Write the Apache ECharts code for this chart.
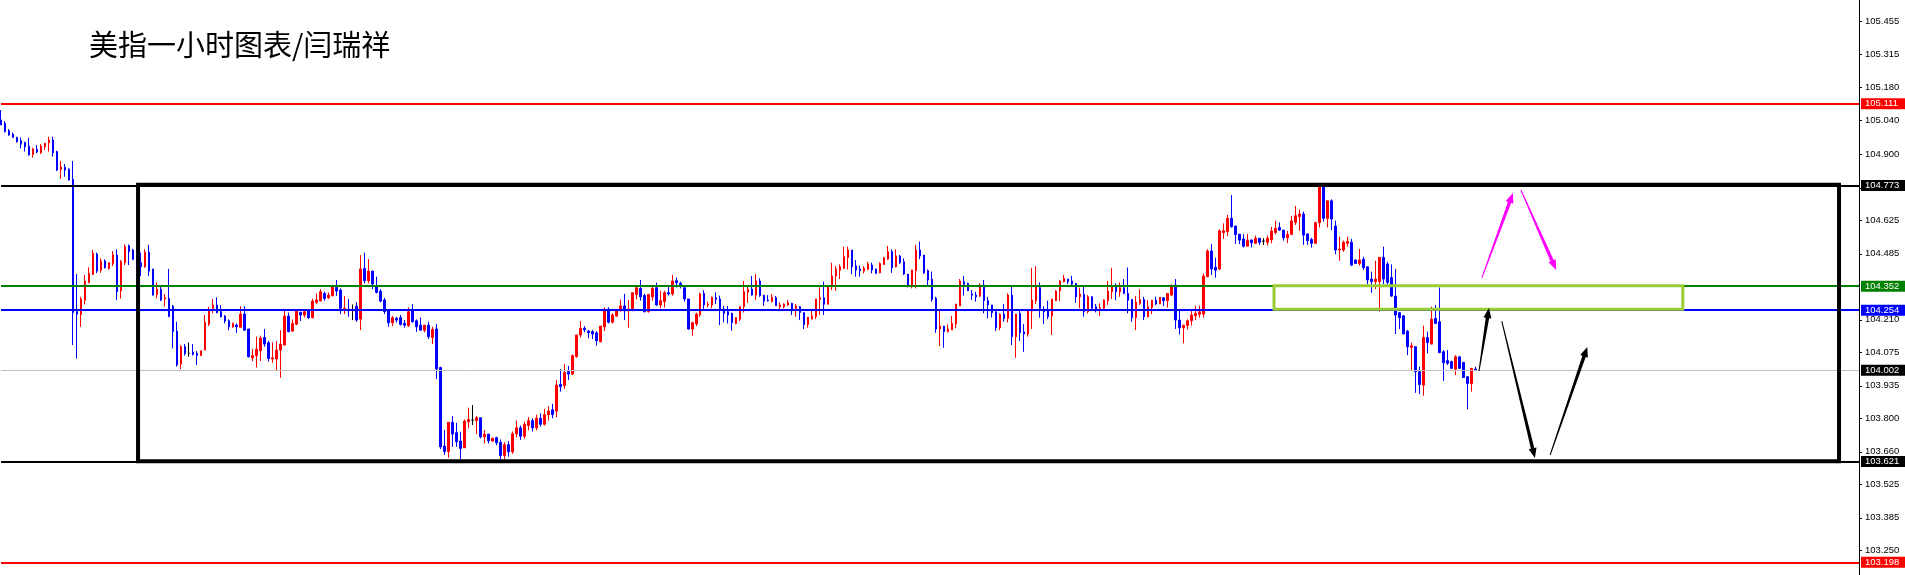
<!DOCTYPE html>
<html><head><meta charset="utf-8">
<script src="https://cdn.jsdelivr.net/npm/echarts@6/dist/echarts.min.js"></script>
<style>html,body{margin:0;padding:0;background:#fff}#c{width:1905px;height:575px}</style>
</head><body><div id="c"></div>
<script>
const titleText = '美指一小时图表/闫瑞祥';
const opens = [
105.043,105.029,104.998,104.983,104.970,104.956,104.949,104.934,104.899,104.920,
104.906,104.931,104.948,104.959,104.911,104.837,104.845,104.838,104.795,104.244,
104.233,104.292,104.366,104.399,104.484,104.417,104.455,104.424,104.445,104.480,
104.331,104.448,104.519,104.501,104.466,104.448,104.431,104.492,104.422,104.316,
104.337,104.297,104.299,104.267,104.163,104.026,104.098,104.070,104.076,104.070,
104.061,104.084,104.192,104.258,104.272,104.244,104.226,104.206,104.181,104.188,
104.179,104.234,104.172,104.052,104.061,104.081,104.137,104.115,104.047,104.047,
104.084,104.105,104.226,104.163,104.192,104.242,104.230,104.247,104.219,104.283,
104.290,104.320,104.302,104.310,104.345,104.334,104.251,104.254,104.251,104.267,
104.213,104.424,104.373,104.413,104.351,104.330,104.293,104.248,104.198,104.216,
104.219,104.195,104.186,104.248,104.206,104.188,104.167,104.188,104.137,104.172,
104.011,103.684,103.661,103.783,103.740,103.705,103.677,103.785,103.792,103.790,
103.802,103.723,103.734,103.705,103.719,
103.700,103.645,103.690,103.660,103.735,103.760,103.725,103.770,103.790,103.760,103.800,103.775,103.815,103.835,103.830,
103.941,103.936,103.994,103.984,104.057,104.147,104.175,104.163,104.161,104.156,
104.119,104.181,104.254,104.200,104.226,104.248,104.268,104.248,104.248,104.316,
104.341,104.311,104.244,104.306,104.344,104.272,104.286,104.323,104.318,104.373,
104.362,104.344,104.297,104.172,104.193,104.230,104.320,104.272,104.272,104.302,
104.297,104.255,104.244,104.237,104.195,104.213,104.265,104.325,104.338,104.313,
104.372,104.313,104.293,104.286,104.302,104.265,104.265,104.272,104.279,104.258,
104.265,104.240,104.191,104.213,104.223,104.295,104.302,104.275,104.348,104.393,
104.417,104.425,104.470,104.501,104.434,104.422,104.413,104.420,104.438,104.422,
104.406,104.441,104.463,104.494,104.431,104.476,104.452,104.401,104.355,104.415,
104.501,104.480,104.415,104.379,104.300,104.172,104.184,104.161,104.168,104.193,
104.268,104.369,104.362,104.318,104.313,104.309,104.355,104.290,104.272,104.244,
104.177,104.234,104.216,104.313,104.140,104.237,104.160,104.151,104.247,104.290,
104.344,104.255,104.247,104.226,104.290,104.331,104.369,104.380,104.372,104.362,
104.306,104.316,104.244,104.306,104.265,104.258,104.258,104.290,104.327,104.348,
104.327,104.344,104.320,104.295,104.219,104.279,104.295,104.223,104.262,104.292,
104.276,104.302,104.290,104.313,104.355,104.209,104.177,104.186,104.206,104.227,
104.233,104.234,104.390,104.497,104.429,104.422,104.573,104.577,104.633,104.601,
104.567,104.547,104.517,104.543,104.529,104.550,104.538,104.533,104.543,104.574,
104.595,104.584,104.552,104.566,104.616,104.640,104.651,104.568,104.545,104.529,
104.615,104.765,104.633,104.706,104.601,104.501,104.501,104.529,104.533,104.459,
104.445,104.462,104.431,104.380,104.369,104.369,104.470,104.443,104.386,104.309,
104.240,104.227,104.163,104.095,104.098,103.994,103.938,104.136,104.109,104.216,
104.202,104.077,104.040,104.036,104.005,104.056,104.033,103.973,103.945,104.005
];
const closes = [
105.022,104.994,104.980,104.970,104.952,104.942,104.931,104.897,104.922,104.909,
104.934,104.945,104.959,104.906,104.834,104.847,104.834,104.793,104.240,104.233,
104.297,104.372,104.404,104.487,104.413,104.455,104.427,104.448,104.481,104.327,
104.452,104.515,104.494,104.462,104.441,104.431,104.492,104.413,104.313,104.338,
104.292,104.302,104.223,104.161,104.022,104.098,104.070,104.070,104.066,104.061,
104.081,104.199,104.255,104.272,104.240,104.223,104.205,104.181,104.195,104.181,
104.234,104.167,104.056,104.061,104.088,104.134,104.109,104.049,104.052,104.084,
104.109,104.226,104.161,104.195,104.247,104.230,104.244,104.219,104.288,104.293,
104.327,104.299,104.313,104.348,104.330,104.258,104.258,104.248,104.251,104.209,
104.422,104.373,104.413,104.359,104.324,104.288,104.244,104.198,104.219,104.209,
104.191,104.188,104.244,104.202,104.181,104.167,104.188,104.140,104.170,104.005,
103.681,103.661,103.783,103.734,103.702,103.674,103.788,103.795,103.792,103.802,
103.723,103.734,103.706,103.716,103.698,
103.645,103.690,103.660,103.735,103.760,103.725,103.775,103.790,103.760,103.800,103.775,103.815,103.830,103.815,103.938,
103.931,103.991,103.984,104.061,104.147,104.175,104.168,104.156,104.151,104.123,
104.184,104.254,104.200,104.230,104.251,104.268,104.247,104.255,104.323,104.344,
104.306,104.244,104.316,104.341,104.272,104.290,104.323,104.318,104.372,104.365,
104.351,104.297,104.172,104.198,104.234,104.318,104.272,104.276,104.304,104.295,
104.255,104.237,104.230,104.198,104.219,104.265,104.327,104.337,104.313,104.372,
104.311,104.288,104.290,104.304,104.269,104.272,104.276,104.281,104.254,104.268,
104.241,104.191,104.220,104.226,104.297,104.302,104.275,104.352,104.393,104.422,
104.431,104.473,104.501,104.431,104.418,104.415,104.425,104.443,104.418,104.404,
104.445,104.469,104.494,104.427,104.476,104.448,104.401,104.351,104.418,104.501,
104.476,104.406,104.376,104.295,104.172,104.184,104.161,104.172,104.195,104.276,
104.372,104.358,104.331,104.313,104.306,104.355,104.290,104.272,104.240,104.177,
104.233,104.216,104.313,104.140,104.234,104.156,104.151,104.251,104.292,104.348,
104.258,104.244,104.223,104.297,104.330,104.372,104.383,104.369,104.359,104.306,
104.317,104.244,104.306,104.258,104.255,104.261,104.292,104.330,104.348,104.327,
104.344,104.320,104.292,104.219,104.283,104.295,104.223,104.265,104.292,104.276,
104.304,104.290,104.320,104.352,104.209,104.177,104.188,104.206,104.230,104.237,
104.244,104.392,104.497,104.422,104.417,104.581,104.581,104.633,104.598,104.566,
104.542,104.517,104.542,104.531,104.550,104.533,104.538,104.550,104.580,104.591,
104.584,104.552,104.566,104.622,104.644,104.651,104.563,104.540,104.529,104.615,
104.765,104.633,104.706,104.630,104.501,104.505,104.533,104.536,104.438,104.445,
104.459,104.427,104.376,104.369,104.380,104.470,104.380,104.366,104.309,104.230,
104.219,104.151,104.098,104.102,103.994,103.941,104.136,104.115,104.213,104.195,
104.073,104.031,104.029,104.008,104.056,104.008,103.970,103.945,104.008,104.002
];
const lows = [
105.022,104.990,104.977,104.969,104.948,104.924,104.911,104.894,104.886,104.904,
104.901,104.918,104.911,104.890,104.830,104.797,104.806,104.790,104.105,104.049,
104.181,104.274,104.362,104.397,104.404,104.406,104.424,104.420,104.434,104.292,
104.299,104.438,104.438,104.459,104.438,104.392,104.427,104.392,104.311,104.299,
104.288,104.265,104.223,104.091,104.015,104.005,104.061,104.056,104.061,104.022,
104.061,104.084,104.184,104.237,104.237,104.220,104.195,104.167,104.177,104.156,
104.179,104.165,104.054,104.038,104.011,104.038,104.098,104.036,104.031,104.001,
103.969,104.105,104.158,104.163,104.188,104.205,104.220,104.213,104.216,104.276,
104.286,104.290,104.297,104.309,104.310,104.234,104.234,104.223,104.209,104.202,
104.167,104.362,104.362,104.338,104.320,104.283,104.234,104.181,104.184,104.199,
104.186,104.177,104.181,104.198,104.160,104.167,104.158,104.130,104.109,103.963,
103.672,103.647,103.636,103.681,103.681,103.629,103.677,103.758,103.772,103.734,
103.716,103.695,103.695,103.702,103.688,
103.628,103.630,103.640,103.652,103.720,103.710,103.715,103.750,103.745,103.750,103.765,103.770,103.790,103.800,103.805,
103.911,103.922,103.959,103.980,104.052,104.136,104.158,104.133,104.130,104.102,
104.116,104.163,104.195,104.195,104.223,104.244,104.209,104.177,104.247,104.295,
104.290,104.241,104.240,104.290,104.268,104.258,104.261,104.311,104.311,104.345,
104.341,104.286,104.168,104.143,104.184,104.223,104.254,104.262,104.258,104.276,
104.188,104.200,104.195,104.165,104.191,104.205,104.241,104.281,104.311,104.293,
104.306,104.268,104.286,104.283,104.268,104.248,104.258,104.269,104.230,104.223,
104.209,104.172,104.177,104.213,104.213,104.230,104.230,104.275,104.334,104.331,
104.380,104.422,104.420,104.401,104.390,104.390,104.404,104.418,104.404,104.401,
104.404,104.438,104.459,104.406,104.429,104.443,104.397,104.345,104.341,104.341,
104.463,104.401,104.355,104.286,104.156,104.101,104.094,104.158,104.168,104.175,
104.268,104.311,104.331,104.293,104.286,104.306,104.237,104.216,104.220,104.163,
104.167,104.202,104.199,104.105,104.052,104.122,104.077,104.140,104.172,104.276,
104.219,104.192,104.213,104.147,104.288,104.288,104.366,104.359,104.348,104.281,
104.258,104.223,104.237,104.251,104.241,104.226,104.255,104.272,104.297,104.292,
104.306,104.317,104.237,104.202,104.167,104.272,104.209,104.220,104.234,104.272,
104.276,104.267,104.261,104.311,104.172,104.149,104.112,104.170,104.186,104.209,
104.219,104.219,104.387,104.397,104.386,104.417,104.547,104.559,104.594,104.526,
104.526,104.511,104.517,104.512,104.526,104.522,104.522,104.519,104.529,104.566,
104.580,104.540,104.529,104.563,104.605,104.581,104.522,104.522,104.511,104.529,
104.595,104.619,104.595,104.584,104.483,104.456,104.494,104.515,104.434,104.445,
104.436,104.418,104.358,104.323,104.338,104.244,104.358,104.352,104.306,104.151,
104.172,104.151,104.063,103.998,103.906,103.901,103.894,104.070,104.108,104.195,
104.073,103.956,104.022,104.005,103.980,104.005,103.970,103.837,103.911,103.998
];
const highs = [
105.084,105.038,105.005,104.990,104.973,104.970,104.952,104.969,104.927,104.938,
104.943,104.948,104.973,104.973,104.915,104.872,104.859,104.841,104.872,104.401,
104.306,104.397,104.429,104.501,104.490,104.466,104.462,104.448,104.497,104.504,
104.459,104.524,104.524,104.506,104.476,104.490,104.504,104.523,104.422,104.366,
104.348,104.317,104.422,104.272,104.202,104.105,104.109,104.116,104.109,104.080,
104.081,104.230,104.265,104.297,104.304,104.272,104.230,104.212,104.199,104.195,
104.267,104.267,104.172,104.088,104.140,104.144,104.172,104.122,104.116,104.122,
104.167,104.251,104.240,104.212,104.247,104.242,104.244,104.247,104.298,104.320,
104.338,104.327,104.324,104.351,104.376,104.341,104.309,104.297,104.274,104.284,
104.480,104.490,104.463,104.413,104.390,104.338,104.302,104.248,104.226,104.223,
104.230,104.209,104.262,104.276,104.212,104.220,104.188,104.202,104.181,104.193,
104.015,103.751,103.783,103.809,103.781,103.744,103.795,103.844,103.855,103.809,
103.802,103.751,103.734,103.720,103.723,
103.712,103.700,103.705,103.745,103.790,103.770,103.785,103.805,103.800,103.815,103.820,103.840,103.850,103.860,103.959,
104.005,104.026,104.018,104.066,104.147,104.205,104.184,104.168,104.168,104.163,
104.184,104.262,104.262,104.237,104.255,104.295,104.318,104.293,104.323,104.355,
104.376,104.318,104.316,104.348,104.365,104.331,104.331,104.351,104.397,104.386,
104.369,104.344,104.297,104.202,104.240,104.323,104.334,104.286,104.307,104.325,
104.311,104.268,104.268,104.240,104.220,104.268,104.372,104.351,104.393,104.401,
104.383,104.313,104.313,104.318,104.309,104.283,104.279,104.293,104.281,104.276,
104.268,104.240,104.223,104.247,104.297,104.345,104.369,104.355,104.448,104.434,
104.441,104.515,104.515,104.501,104.459,104.436,104.434,104.452,104.448,104.422,
104.450,104.473,104.518,104.504,104.504,104.480,104.466,104.401,104.418,104.522,
104.536,104.480,104.420,104.411,104.306,104.247,104.184,104.191,104.226,104.276,
104.380,104.393,104.365,104.334,104.327,104.362,104.376,104.306,104.272,104.244,
104.237,104.276,104.320,104.352,104.234,104.254,104.192,104.255,104.427,104.434,
104.366,104.267,104.290,104.297,104.334,104.376,104.397,104.380,104.393,104.362,
104.344,104.348,104.313,104.309,104.276,104.279,104.295,104.372,104.427,104.362,
104.366,104.380,104.428,104.295,104.309,104.337,104.306,104.292,104.292,104.306,
104.304,104.302,104.320,104.358,104.380,104.255,104.188,104.212,104.247,104.269,
104.269,104.403,104.505,104.526,104.469,104.587,104.612,104.647,104.730,104.601,
104.567,104.567,104.567,104.543,104.561,104.550,104.550,104.561,104.598,104.623,
104.616,104.584,104.580,104.643,104.684,104.670,104.661,104.570,104.552,104.619,
104.772,104.772,104.706,104.712,104.623,104.556,104.540,104.556,104.547,104.462,
104.505,104.473,104.431,104.411,104.456,104.470,104.515,104.452,104.441,104.422,
104.240,104.227,104.168,104.115,104.098,104.015,104.186,104.161,104.265,104.272,
104.345,104.084,104.084,104.040,104.063,104.056,104.033,103.976,104.008,104.015
];
// y axis tick labels (MT4 style scale)
const yTickLabels = ['105.455','105.315','105.180','105.040','104.900','104.760','104.625','104.485',
  '104.210','104.075','103.935','103.800','103.660','103.525','103.385','103.250'];
// horizontal price levels
const levelRed1 = 105.111, levelBoxTop = 104.773, levelGreen = 104.352, levelBlue = 104.254,
      levelCurrent = 104.002, levelBoxBottom = 103.621, levelRed2 = 103.198;
// annotation boxes in [barIndex, price, barIndex, price]
const rangeBox = [[34.3, 104.773, 460.0, 103.621]];
const zoneBox = [[318.6, 104.352, 420.9, 104.254]];
// annotation arrows [fromBar, fromPrice, toBar, toPrice]
const magentaArrows = [[370.6, 104.384, 378.4, 104.738],[380.4, 104.751, 389.2, 104.418]];
const blackArrows = [[369.9, 103.997, 372.4, 104.259],[375.6, 104.205, 383.9, 103.634],[387.7, 103.647, 397.0, 104.097]];

const totalSlots = 466;
const yMin = 103.147, yMax = 105.5425;

const cats = [];
for (let i = 0; i < totalSlots; i++) cats.push(String(i));
const candleData = opens.map((o, i) => [o, closes[i], lows[i], highs[i]]);
const yTicks = yTickLabels.map(Number);

function arrowShape(p0, p1, w0, w1, headLen, headW) {
  const dx = p1[0]-p0[0], dy = p1[1]-p0[1];
  const L = Math.sqrt(dx*dx+dy*dy);
  const ux = dx/L, uy = dy/L, nx = -uy, ny = ux;
  const s = [p1[0]-ux*headLen, p1[1]-uy*headLen];
  const n = (p, w) => [[p[0]+nx*w/2, p[1]+ny*w/2],[p[0]-nx*w/2, p[1]-ny*w/2]];
  const a = n(p0, w0), b = n(s, w1), h = n(s, headW);
  return [a[0], b[0], h[0], p1, h[1], b[1], a[1]];
}
function arrowSeries(data, color) {
  return {
    type: 'custom', xAxisIndex: 1, yAxisIndex: 0, data: data, silent: true, z: 12,
    encode: {x: [0, 2], y: [1, 3]}, clip: false,
    renderItem: (params, api) => {
      const p0 = api.coord([api.value(0), api.value(1)]);
      const p1 = api.coord([api.value(2), api.value(3)]);
      return {type: 'polygon', shape: {points: arrowShape(p0, p1, 1, 3.5, 10, 8)}, style: {fill: color, stroke: null}};
    }
  };
}
function boxSeries(data, color, width) {
  return {
    type: 'custom', xAxisIndex: 1, yAxisIndex: 0, data: data, silent: true, z: 11,
    encode: {x: [0, 2], y: [1, 3]}, clip: false,
    renderItem: (params, api) => {
      const p0 = api.coord([api.value(0), api.value(1)]);
      const p1 = api.coord([api.value(2), api.value(3)]);
      return {type: 'rect', shape: {x: p0[0], y: p0[1], width: p1[0]-p0[0], height: p1[1]-p0[1]},
              style: {fill: null, stroke: color, lineWidth: width}};
    }
  };
}
function level(v, color, width, bg) {
  return {yAxis: v, lineStyle: {color: color, width: width, type: 'solid'},
    label: {show: true, position: 'end', distance: 2, formatter: v.toFixed(3), color: '#fff',
      backgroundColor: bg, padding: [1, 8, 0, 4], fontSize: 9.5, lineHeight: 10,
      fontFamily: 'Liberation Sans'}};
}

const chart = echarts.init(document.getElementById('c'), null, {renderer: 'canvas'});
chart.setOption({
  animation: false,
  backgroundColor: '#fff',
  graphic: [{type: 'text', left: 89, top: 30, silent: true,
    style: {text: titleText, font: 'normal 29px "Noto Sans CJK SC"', fill: '#000'}}],
  grid: {left: 1, right: 46, top: 0, bottom: 0},
  xAxis: [
    {type: 'category', data: cats, boundaryGap: false, show: false},
    {type: 'value', min: 0, max: totalSlots - 1, show: false}
  ],
  yAxis: {
    type: 'value', position: 'right', min: yMin, max: yMax,
    axisLine: {show: true, onZero: false, lineStyle: {color: '#000', width: 1}},
    axisTick: {show: true, length: 3, customValues: yTicks, lineStyle: {color: '#000'}},
    axisLabel: {customValues: yTicks, formatter: v => v.toFixed(3), color: '#000', fontSize: 9.5,
      fontFamily: 'Liberation Sans', margin: 6},
    splitLine: {show: false}
  },
  series: [
    {
      type: 'candlestick', data: candleData, barWidth: 2, z: 3,
      itemStyle: {color: '#ff0000', color0: '#0000ff', borderColor: '#ff0000', borderColor0: '#0000ff',
        borderColorDoji: '#000000', borderWidth: 1},
      markLine: {
        symbol: 'none', silent: true, animation: false, z: 5,
        data: [
          level(levelRed1, '#ff0000', 2, '#ff0000'),
          level(levelBoxTop, '#000000', 2, '#000000'),
          level(levelGreen, '#008000', 2, '#008000'),
          level(levelBlue, '#0000ff', 2, '#0000ff'),
          level(levelCurrent, '#c0c0c0', 1, '#000000'),
          level(levelBoxBottom, '#000000', 2, '#000000'),
          level(levelRed2, '#ff0000', 2, '#ff0000')
        ]
      }
    },
    boxSeries(rangeBox, '#000000', 4),
    boxSeries(zoneBox, '#9acd32', 3),
    arrowSeries(magentaArrows, '#ff00ff'),
    arrowSeries(blackArrows, '#000000')
  ]
});
</script></body></html>
